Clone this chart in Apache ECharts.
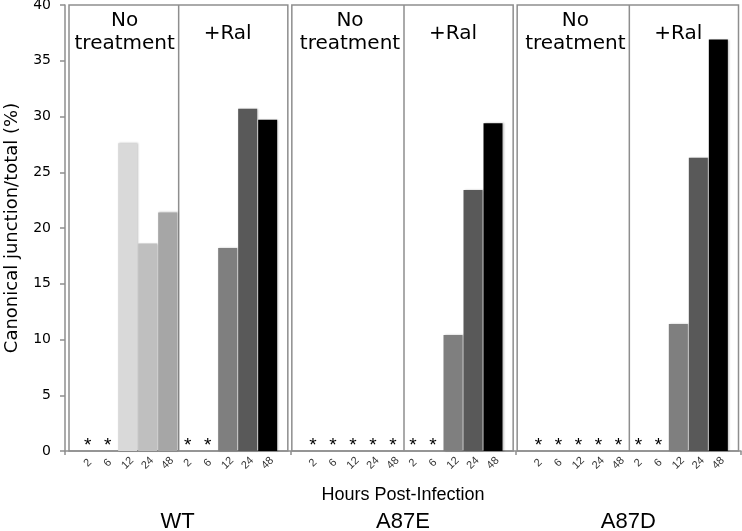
<!DOCTYPE html>
<html>
<head>
<meta charset="utf-8">
<script src="https://cdn.jsdelivr.net/npm/echarts@6/dist/echarts.min.js"></script>
<style>
html,body{margin:0;padding:0;background:#fff;}
#chart{width:742px;height:531px;}
</style>
</head>
<body>
<div id="chart"></div>
<script>
// ---- data ----
const groups = ['WT', 'A87E', 'A87D'];
const hours = ['2', '6', '12', '24', '48'];
const conditions = ['No\ntreatment', '+Ral'];
// null = not detected (marked with *)
const wtNoTreatment   = [null, null, 27.6, 18.6, 21.4];
const wtRal           = [null, null, 18.2, 30.7, 29.7];
const a87eNoTreatment = [null, null, null, null, null];
const a87eRal         = [null, null, 10.4, 23.4, 29.4];
const a87dNoTreatment = [null, null, null, null, null];
const a87dRal         = [null, null, 11.4, 26.3, 36.9];
const yTicks = [0, 5, 10, 15, 20, 25, 30, 35, 40];

// ---- styles ----
const ntColors  = ['#d9d9d9', '#d9d9d9', '#d9d9d9', '#bfbfbf', '#a6a6a6'];
const ralColors = ['#7f7f7f', '#7f7f7f', '#7f7f7f', '#595959', '#000000'];
const lineColor = '#8e8e8e';

const groupData = [
  [wtNoTreatment, wtRal],
  [a87eNoTreatment, a87eRal],
  [a87dNoTreatment, a87dRal]
];

// ---- layout ----
const plotLeft = 65, plotRight = 741, plotTop = 5, plotBottom = 451;
const W = (plotRight - plotLeft) / 3;
const inner = 200;
const pad = (W - inner) / 2;

function item(v, color) {
  if (v === null || v === undefined) {
    return {
      value: 0,
      label: {
        show: true, position: 'top', distance: -4, formatter: '*',
        fontFamily: 'Liberation Sans', fontSize: 19, color: '#000', lineHeight: 19
      }
    };
  }
  return { value: v, itemStyle: { color: color } };
}

const grids = [{ left: plotLeft, width: plotRight - plotLeft, top: plotTop, height: plotBottom - plotTop, outerBoundsMode: 'none', containLabel: false }];
const xAxes = [{
  type: 'category', gridIndex: 0, data: groups, boundaryGap: true,
  axisLine: { show: true, lineStyle: { color: lineColor, width: 1.5 } },
  axisTick: { show: true, interval: 0, length: 4, lineStyle: { color: lineColor, width: 1.5 } },
  axisLabel: { fontFamily: 'Liberation Sans', fontSize: 22, color: '#000', margin: 60 },
  name: 'Hours Post-Infection', nameLocation: 'middle', nameGap: 35, nameMoveOverlap: false,
  nameTextStyle: { fontFamily: 'Liberation Sans', fontSize: 18, color: '#000' }
}];
const yAxes = [{
  type: 'value', gridIndex: 0, min: 0, max: 40, interval: 5,
  axisLine: { show: true, lineStyle: { color: lineColor, width: 1.5 } },
  axisTick: { show: true, length: 5, lineStyle: { color: lineColor, width: 1.5 } },
  axisLabel: { fontFamily: 'DejaVu Sans', fontSize: 14, color: '#000', margin: 14,
    formatter: v => yTicks.indexOf(v) >= 0 ? String(v) : '' },
  splitLine: { show: false },
  name: 'Canonical junction/total (%)', nameLocation: 'middle', nameGap: 44, nameMoveOverlap: false,
  nameTextStyle: { fontFamily: 'DejaVu Sans', fontSize: 18, color: '#000' }
}];
const series = [];
const graphics = [];

groups.forEach((g, gi) => {
  const gs = plotLeft + gi * W;
  const ge = gs + W;
  grids.push({ left: gs + pad, width: inner, top: plotTop, height: plotBottom - plotTop, outerBoundsMode: 'none', containLabel: false });
  xAxes.push({
    type: 'category', gridIndex: gi + 1, data: hours.concat(hours),
    axisLine: { show: false }, axisTick: { show: false },
    axisLabel: { interval: 0, rotate: 45, align: 'center', verticalAlign: 'middle',
      fontFamily: 'Liberation Sans', fontSize: 11, color: '#333', margin: 12 }
  });
  yAxes.push({ type: 'value', gridIndex: gi + 1, min: 0, max: 40, show: false, splitLine: { show: false } });
  const [nt, ral] = groupData[gi];
  const data = nt.map((v, i) => item(v, ntColors[i])).concat(ral.map((v, i) => item(v, ralColors[i])));
  series.push({
    type: 'bar', xAxisIndex: gi + 1, yAxisIndex: gi + 1, data: data, barWidth: 19,
    itemStyle: { shadowBlur: 2, shadowOffsetX: 1, shadowOffsetY: 0, shadowColor: 'rgba(0,0,0,0.25)' },
    animation: false
  });
  // panel frame
  const bx0 = gs + (gi === 0 ? 4 : 1.5), bx1 = ge - 2.5;
  const mid = (gs + ge) / 2 + 1;
  graphics.push({
    type: 'rect', z: 0, silent: true,
    shape: { x: bx0, y: plotTop, width: bx1 - bx0, height: plotBottom - plotTop },
    style: { fill: null, stroke: lineColor, lineWidth: 1.5 }
  });
  graphics.push({
    type: 'line', z: 0, silent: true,
    shape: { x1: mid, y1: plotTop, x2: mid, y2: plotBottom },
    style: { stroke: lineColor, lineWidth: 1.5 }
  });
  // condition titles
  graphics.push({
    type: 'text', z: 5, silent: true,
    style: { text: conditions[0], x: gs + pad + 47, y: 32, align: 'center', verticalAlign: 'middle',
      fontFamily: 'DejaVu Sans', fontSize: 20, lineHeight: 23, fill: '#000' }
  });
  graphics.push({
    type: 'text', z: 5, silent: true,
    style: { text: conditions[1], x: gs + pad + 150, y: 34, align: 'center', verticalAlign: 'middle',
      fontFamily: 'DejaVu Sans', fontSize: 20, fill: '#000' }
  });
});

const chart = echarts.init(document.getElementById('chart'), null, { renderer: 'canvas' });
chart.setOption({
  animation: false,
  backgroundColor: '#fff',
  grid: grids,
  xAxis: xAxes,
  yAxis: yAxes,
  series: series,
  graphic: graphics
});
</script>
</body>
</html>
